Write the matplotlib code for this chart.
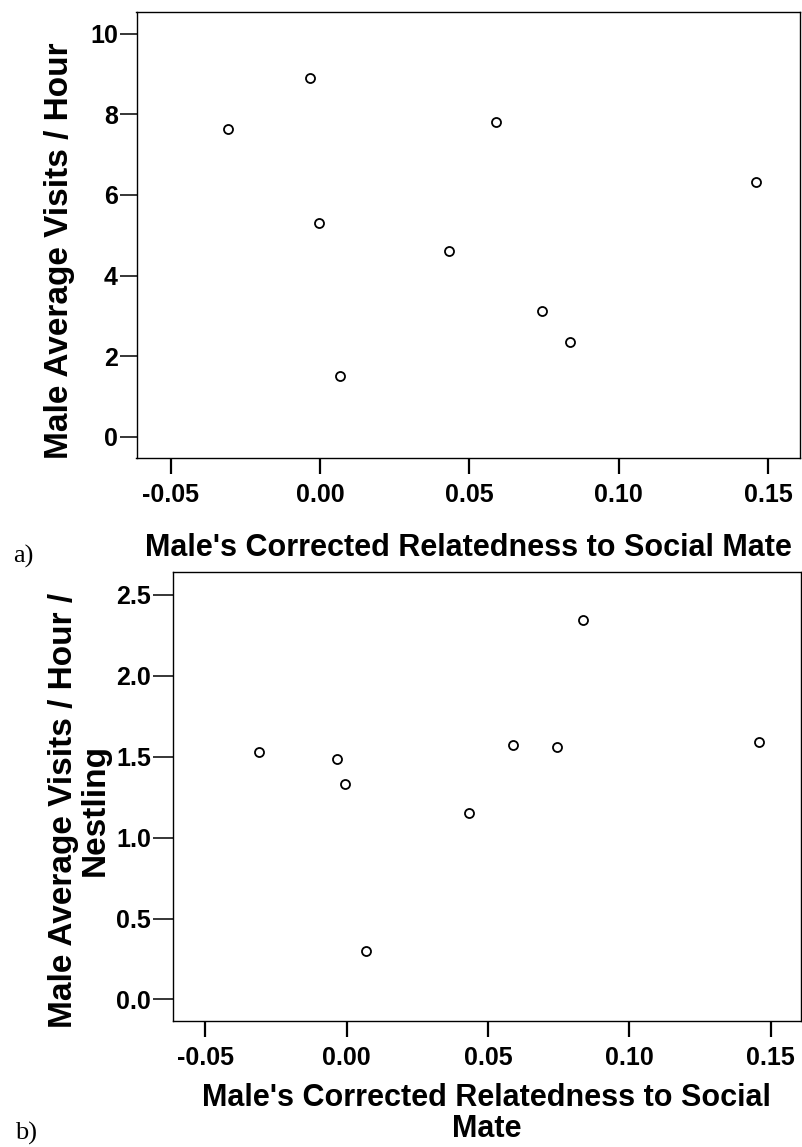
import matplotlib
matplotlib.use("Agg")
import matplotlib.pyplot as plt
from matplotlib.ticker import FormatStrFormatter, MultipleLocator

# Male's corrected relatedness to his social mate (one value per nest)
relatedness = [-0.0310, -0.0034, -0.0004, 0.0068, 0.0432, 0.0589, 0.0744, 0.0836, 0.1459]
# a) male feeding visits per hour
visits_per_hour = [7.64, 8.90, 5.31, 1.51, 4.62, 7.82, 3.13, 2.36, 6.33]
# b) male feeding visits per hour per nestling
visits_per_hour_nestling = [1.531, 1.486, 1.332, 0.297, 1.154, 1.570, 1.560, 2.343, 1.593]

x_ticks = [-0.05, 0.00, 0.05, 0.10, 0.15]

plt.rcParams["font.family"] = ["Liberation Sans", "DejaVu Sans"]
plt.rcParams["font.weight"] = "bold"
plt.rcParams["axes.unicode_minus"] = False

W, H = 802, 1147
fig = plt.figure(figsize=(W / 100, H / 100), dpi=100)


def px_axes(left, top, right, bottom):
    return fig.add_axes([left / W, 1 - bottom / H, (right - left) / W, (bottom - top) / H])


ax_a = px_axes(136.5, 12, 800, 458.5)
ax_b = px_axes(172.7, 571.7, 801, 1021)

tick_fs = 18
xlabel_fs = 22
ylabel_fs = 24

for ax, yvals in ((ax_a, visits_per_hour), (ax_b, visits_per_hour_nestling)):
    ax.plot(relatedness, yvals, linestyle="none", marker="o", markersize=6.5,
            markerfacecolor="white", markeredgecolor="black", markeredgewidth=1.3)
    ax.set_xlim(-0.0615, 0.1607)
    ax.set_xticks(x_ticks)
    ax.xaxis.set_major_formatter(FormatStrFormatter("%.2f"))
    for s in ax.spines.values():
        s.set_linewidth(1.0)
        s.set_color("black")
    ax.tick_params(axis="x", direction="out", length=11.5, width=1.6, pad=6.5,
                   labelsize=tick_fs)
    for lab in ax.get_xticklabels() + ax.get_yticklabels():
        lab.set_fontweight("bold")

# panel a
ax_a.set_ylim(-0.54, 10.54)
ax_a.yaxis.set_major_locator(MultipleLocator(2))
ax_a.yaxis.set_major_formatter(FormatStrFormatter("%d"))
ax_a.tick_params(axis="y", direction="out", length=12.5, width=1.1, pad=1,
                 labelsize=tick_fs)
ax_a.set_xlabel("Male's Corrected Relatedness to Social Mate", fontsize=xlabel_fs,
                fontweight="bold")
ax_a.xaxis.set_label_coords(0.5, -0.167)
ax_a.set_ylabel("Male Average Visits / Hour", fontsize=ylabel_fs, fontweight="bold")
ax_a.yaxis.label.set_va("center")
ax_a.yaxis.set_label_coords(-0.1168, 0.4647)

# panel b
ax_b.set_ylim(-0.133, 2.644)
ax_b.yaxis.set_major_locator(MultipleLocator(0.5))
ax_b.yaxis.set_major_formatter(FormatStrFormatter("%.1f"))
ax_b.tick_params(axis="y", direction="out", length=14.5, width=1.1, pad=1,
                 labelsize=tick_fs)
ax_b.set_xlabel("Male's Corrected Relatedness to Social\nMate", fontsize=xlabel_fs,
                fontweight="bold", linespacing=1.04)
ax_b.xaxis.set_label_coords(0.5, -0.139)
ax_b.set_ylabel("Male Average Visits / Hour /\nNestling", fontsize=ylabel_fs,
                fontweight="bold", linespacing=1.05)
ax_b.yaxis.label.set_va("center")
ax_b.yaxis.set_label_coords(-0.1483, 0.4696)

# panel letters
fig.text(13 / W, 1 - 563 / H, "a)", family="Liberation Serif", fontsize=19,
         fontweight="normal", va="baseline", ha="left")
fig.text(15 / W, 1 - 1139.5 / H, "b)", family="Liberation Serif", fontsize=19,
         fontweight="normal", va="baseline", ha="left")

fig.savefig("out.png", dpi=100, facecolor="white")
